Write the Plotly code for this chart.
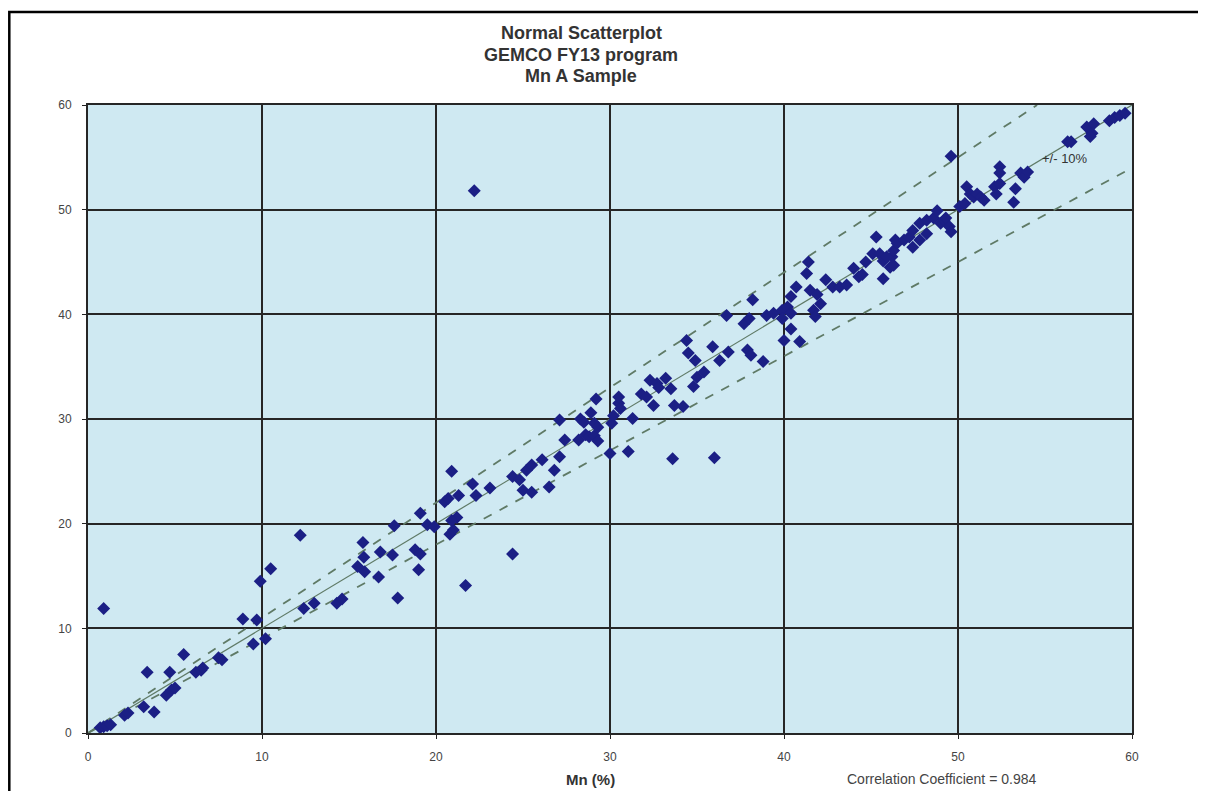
import plotly.graph_objects as go

# ---- data (Mn %, sample A vs duplicate) ----
x_vals = [
    0.9, 0.7, 0.9, 1.1, 1.3, 2.1, 2.3, 3.2, 3.8, 3.4, 4.7, 4.5, 4.8, 5.0, 5.5,
    6.2, 6.5, 6.6, 7.5, 7.7, 8.9, 9.7, 9.9, 10.5, 9.5, 10.2, 12.4, 13.0, 14.3,
    14.6, 15.5, 12.2, 15.8, 15.85, 16.8, 17.5, 15.9, 16.7,
    17.8, 21.7, 24.4, 18.8, 19.1, 19.0, 17.6, 19.1, 19.5, 19.9, 20.8, 21.0,
    21.2, 20.9, 20.5, 20.7, 21.3, 20.9, 22.1, 22.3, 23.1, 24.4, 24.8, 25.0,
    25.5, 25.2, 25.5, 26.1, 26.5, 26.8, 27.1, 27.4, 27.1, 28.2, 28.6, 28.8,
    29.1, 29.3, 28.3, 28.9, 28.5, 29.1, 29.3, 29.2, 30.0, 31.05, 30.1, 30.2,
    30.5, 30.6, 31.3, 32.5, 33.6, 36.0, 33.7, 34.2, 34.8,
    31.8, 32.1, 32.3, 32.7, 32.8, 33.2, 33.5, 30.5,
    34.4, 34.5, 34.9, 35.0, 35.4, 35.9, 36.3, 36.8, 36.7, 37.7, 38.0, 37.9,
    38.1, 38.2, 38.8, 39.0, 39.4, 39.9, 40.2, 40.4, 39.9, 40.4, 40.0, 40.9,
    40.4, 40.7, 41.3, 41.4, 41.5, 41.9, 42.1, 41.7, 41.8, 42.4, 42.8, 43.2,
    43.6, 44.0, 44.3, 44.5, 44.7, 45.1, 45.3, 45.7, 45.7, 46.1, 46.4, 46.2,
    49.6, 45.5, 45.9, 46.3, 46.3, 46.5, 46.9, 47.2, 47.4, 47.4, 47.8, 47.8,
    48.2, 48.2, 48.6, 48.8, 49.0, 49.2, 49.3, 49.5, 49.6,
    50.1, 50.4, 50.5, 50.7, 50.9, 51.1, 51.3, 51.5, 52.1, 52.2, 52.4, 52.4,
    52.4, 53.2, 53.3, 53.6, 53.8, 54.0, 56.3, 56.5, 57.4, 57.7, 57.8, 57.6,
    58.7, 59.0, 59.3, 59.6, 22.2,
]
y_vals = [
    11.9, 0.5, 0.6, 0.7, 0.8, 1.7, 1.9, 2.5, 2.0, 5.8, 5.8, 3.6, 4.1, 4.3, 7.5,
    5.8, 6.0, 6.2, 7.2, 7.0, 10.9, 10.8, 14.5, 15.7, 8.5, 9.0, 11.9, 12.4, 12.4,
    12.8, 15.9, 18.9, 18.2, 16.8, 17.3, 17.0, 15.4, 14.9,
    12.9, 14.1, 17.1, 17.5, 17.1, 15.6, 19.8, 21.0, 19.9, 19.7, 19.0, 19.4,
    20.6, 20.3, 22.1, 22.4, 22.7, 25.0, 23.8, 22.7, 23.4, 24.5, 24.2, 23.2,
    23.0, 25.1, 25.6, 26.1, 23.5, 25.1, 26.4, 28.0, 29.9, 28.0, 28.5, 28.3,
    28.4, 27.9, 30.0, 30.6, 29.7, 29.6, 29.2, 31.9, 26.7, 26.9, 29.6, 30.3,
    31.5, 31.0, 30.05, 31.3, 26.2, 26.3, 31.3, 31.2, 33.1,
    32.4, 32.1, 33.7, 33.4, 33.0, 33.9, 32.9, 32.1,
    37.5, 36.3, 35.6, 34.0, 34.5, 36.9, 35.6, 36.4, 39.9, 39.1, 39.6, 36.6,
    36.1, 41.4, 35.5, 39.9, 40.1, 40.4, 40.7, 40.1, 39.6, 38.6, 37.5, 37.4,
    41.7, 42.6, 43.9, 45.0, 42.3, 41.9, 41.0, 40.4, 39.8, 43.3, 42.6, 42.6,
    42.8, 44.4, 43.6, 43.8, 45.0, 45.8, 47.4, 45.1, 43.4, 44.5, 47.1, 45.5,
    55.1, 45.8, 45.5, 46.1, 44.7, 46.8, 47.1, 47.4, 48.0, 46.4, 48.7, 47.1,
    49.0, 47.7, 49.2, 49.9, 48.7, 49.0, 49.2, 48.4, 47.9,
    50.3, 50.6, 52.2, 51.5, 51.2, 51.5, 51.2, 50.9, 52.2, 51.5, 54.1, 53.5,
    52.5, 50.7, 52.0, 53.5, 53.1, 53.6, 56.5, 56.5, 57.9, 57.3, 58.2, 57.0,
    58.5, 58.8, 59.0, 59.2, 51.8,
]

title_lines = ["Normal Scatterplot", "GEMCO FY13 program", "Mn A Sample"]
x_title = "Mn (%)"
corr_text = "Correlation Coefficient = 0.984"
band_label = "+/- 10%"
band_pct = 10
axis_max = 60
tick_vals = [0, 10, 20, 30, 40, 50, 60]

# ---- figure ----
hi = 1 + band_pct / 100
lo = 1 - band_pct / 100
line_col = "#5f7a66"
FONT = "Liberation Sans, Arial"

fig = go.Figure()
fig.add_trace(go.Scatter(
    x=[0, axis_max], y=[0, axis_max], mode="lines",
    line=dict(color=line_col, width=1.2), hoverinfo="skip", showlegend=False))
fig.add_trace(go.Scatter(
    x=[0, axis_max / hi], y=[0, axis_max], mode="lines",
    line=dict(color=line_col, width=1.8, dash="dash"), hoverinfo="skip", showlegend=False))
fig.add_trace(go.Scatter(
    x=[0, axis_max], y=[0, axis_max * lo], mode="lines",
    line=dict(color=line_col, width=1.8, dash="dash"), hoverinfo="skip", showlegend=False))
fig.add_trace(go.Scatter(
    x=x_vals, y=y_vals, mode="markers",
    marker=dict(symbol="diamond", size=10, color="#1b1f85", line=dict(width=0)),
    showlegend=False))

axis_common = dict(
    range=[0, axis_max], tickvals=tick_vals, ticks="outside", ticklen=4,
    tickcolor="#222", showgrid=True, gridcolor="#262626", gridwidth=1.6,
    showline=True, mirror=True, linecolor="#262626", linewidth=2,
    zeroline=False, tickfont=dict(family=FONT, size=12, color="#444"),
    ticklabelstandoff=8,
)
fig.update_xaxes(**axis_common)
fig.update_yaxes(**axis_common)

# The page body has an 8px margin, so the figure starts 8px right/down of the window corner.
OFF = 8
W, H = 1206 - OFF, 791 - OFF
PLOT_L, PLOT_R, PLOT_T, PLOT_B = 88, 1132, 105, 733   # target screen pixels
L, T = PLOT_L - OFF, PLOT_T - OFF
R, B = W - (PLOT_R - OFF), H - (PLOT_B - OFF)
pw, ph = W - L - R, H - T - B

def px2paper(px, py):
    lx, ly = px - OFF, py - OFF
    return (lx - L) / pw, (H - B - ly) / ph

annots = []
for line, py in zip(title_lines, [33, 55, 76]):
    tx, ty = px2paper(581, py)
    annots.append(dict(x=tx, y=ty, xref="paper", yref="paper", text="<b>" + line + "</b>",
                       showarrow=False, xanchor="center", yanchor="middle",
                       font=dict(family=FONT, size=18, color="#333")))
ax, ay = px2paper(590, 779)
annots.append(dict(x=ax, y=ay, xref="paper", yref="paper", text="<b>" + x_title + "</b>",
                   showarrow=False, xanchor="center", yanchor="middle",
                   font=dict(family=FONT, size=15, color="#333")))
cx, cy = px2paper(845, 779)
annots.append(dict(x=cx, y=cy, xref="paper", yref="paper", text=corr_text,
                   showarrow=False, xanchor="left", yanchor="middle",
                   font=dict(family=FONT, size=14, color="#444")))
annots.append(dict(x=54.7, y=54.9, xref="x", yref="y", text=band_label,
                   showarrow=False, xanchor="left", yanchor="middle",
                   font=dict(family=FONT, size=13, color="#333")))

fx0, fy1 = px2paper(OFF + 1.3, 12)
fx1, fy0 = px2paper(1203, 830)

fig.update_layout(
    width=W, height=H,
    margin=dict(l=L, r=R, t=T, b=B),
    paper_bgcolor="white", plot_bgcolor="#cfe9f2",
    annotations=annots,
    shapes=[dict(type="rect", xref="paper", yref="paper", x0=fx0, x1=fx1, y0=fy0, y1=fy1,
                 line=dict(color="black", width=2.5), fillcolor="rgba(0,0,0,0)", layer="above")],
    showlegend=False,
)

fig.write_html("out.html")
